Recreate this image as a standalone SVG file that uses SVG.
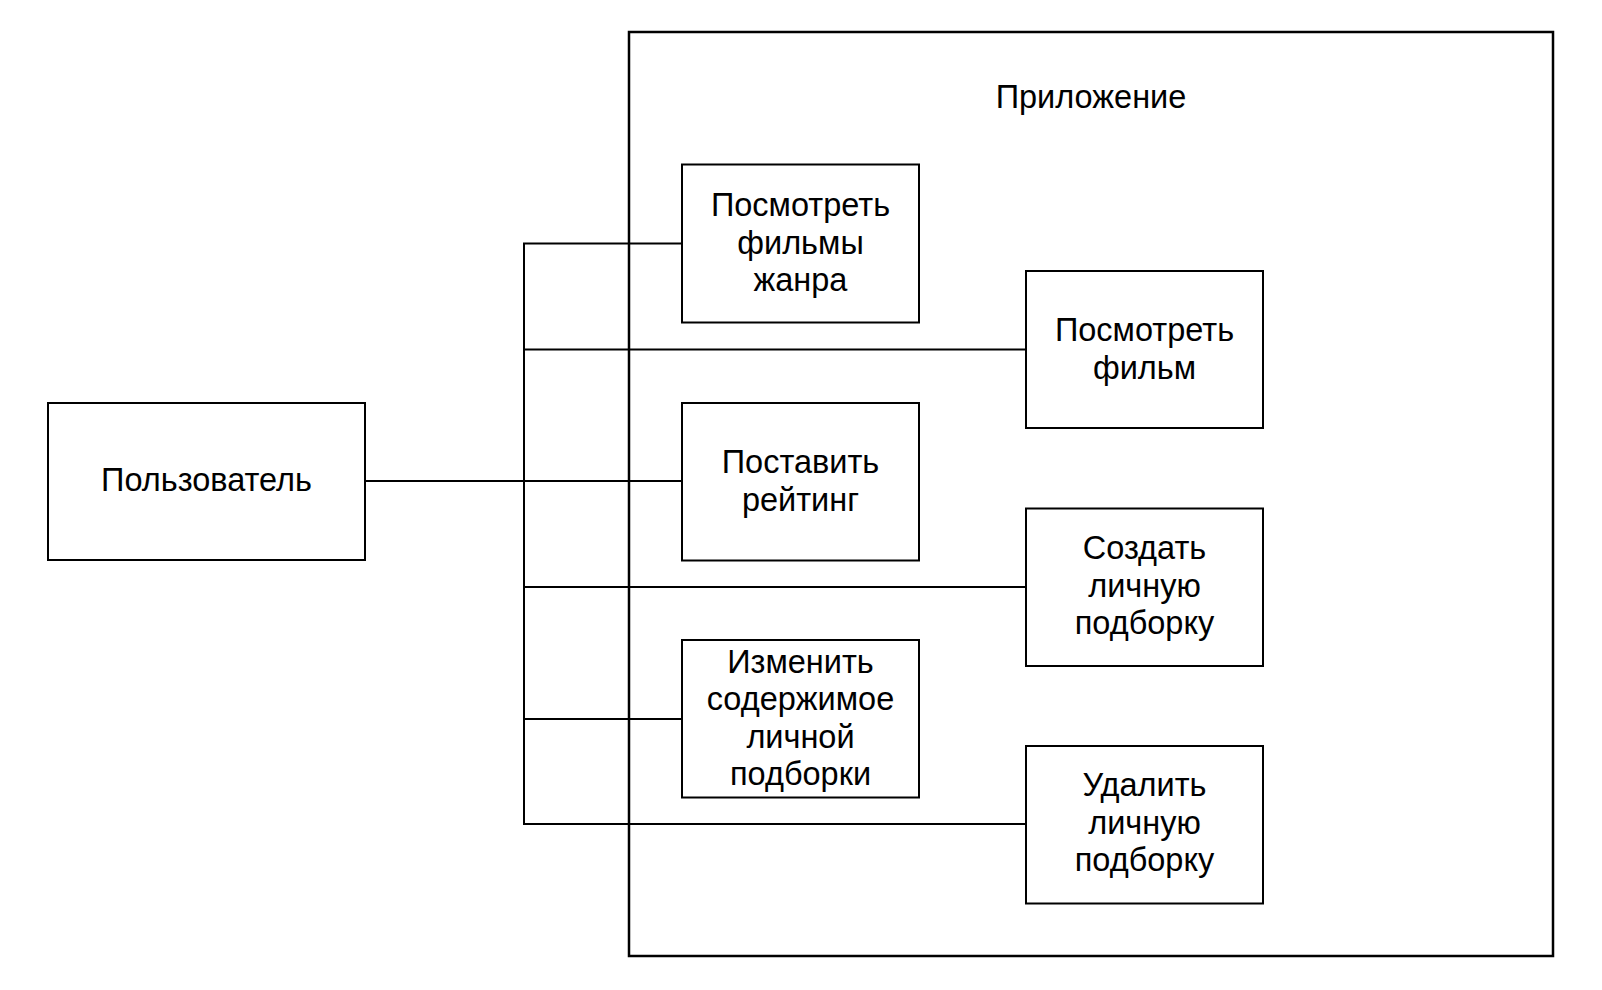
<svg xmlns="http://www.w3.org/2000/svg" width="1602" height="990" viewBox="0 0 1602 990">
<style>
.box{fill:#fff;stroke:#000;stroke-width:2}
.cont{fill:#fff;stroke:#000;stroke-width:2.5}
.ln{fill:none;stroke:#000;stroke-width:2}
text{font-family:"Liberation Sans",Arial,sans-serif;font-size:32.5px;fill:#000;text-anchor:middle}
</style>
<rect width="1602" height="990" fill="#fff"/>
<g id="app">
<rect class="cont" x="629" y="32" width="924" height="924"/>
<text x="1091" y="108">Приложение</text>
</g>
<g id="connectors">
<line class="ln" x1="365" y1="481" x2="682" y2="481"/>
<line class="ln" x1="524" y1="243.5" x2="524" y2="824"/>
<line class="ln" x1="523" y1="243.5" x2="682" y2="243.5"/>
<line class="ln" x1="523" y1="349.5" x2="1026" y2="349.5"/>
<line class="ln" x1="523" y1="587" x2="1026" y2="587"/>
<line class="ln" x1="523" y1="719" x2="682" y2="719"/>
<line class="ln" x1="523" y1="824" x2="1026" y2="824"/>
</g>
<g id="user">
<rect class="box" x="48" y="403" width="317" height="157"/>
<text x="206.5" y="491">Пользователь</text>
</g>
<g id="view-genre">
<rect class="box" x="682" y="164.5" width="237" height="158"/>
<text x="800.5" y="216">Посмотреть</text>
<text x="800.5" y="253.5">фильмы</text>
<text x="800.5" y="291">жанра</text>
</g>
<g id="view-film">
<rect class="box" x="1026" y="271" width="237" height="157"/>
<text x="1144.5" y="341">Посмотреть</text>
<text x="1144.5" y="378.5">фильм</text>
</g>
<g id="rate">
<rect class="box" x="682" y="403" width="237" height="157.5"/>
<text x="800.5" y="473">Поставить</text>
<text x="800.5" y="510.5">рейтинг</text>
</g>
<g id="create">
<rect class="box" x="1026" y="508.5" width="237" height="157.5"/>
<text x="1144.5" y="559">Создать</text>
<text x="1144.5" y="596.5">личную</text>
<text x="1144.5" y="634">подборку</text>
</g>
<g id="edit">
<rect class="box" x="682" y="640" width="237" height="157.5"/>
<text x="800.5" y="672.5">Изменить</text>
<text x="800.5" y="710">содержимое</text>
<text x="800.5" y="747.5">личной</text>
<text x="800.5" y="785">подборки</text>
</g>
<g id="delete">
<rect class="box" x="1026" y="746" width="237" height="157.5"/>
<text x="1144.5" y="796">Удалить</text>
<text x="1144.5" y="833.5">личную</text>
<text x="1144.5" y="871">подборку</text>
</g>
</svg>
